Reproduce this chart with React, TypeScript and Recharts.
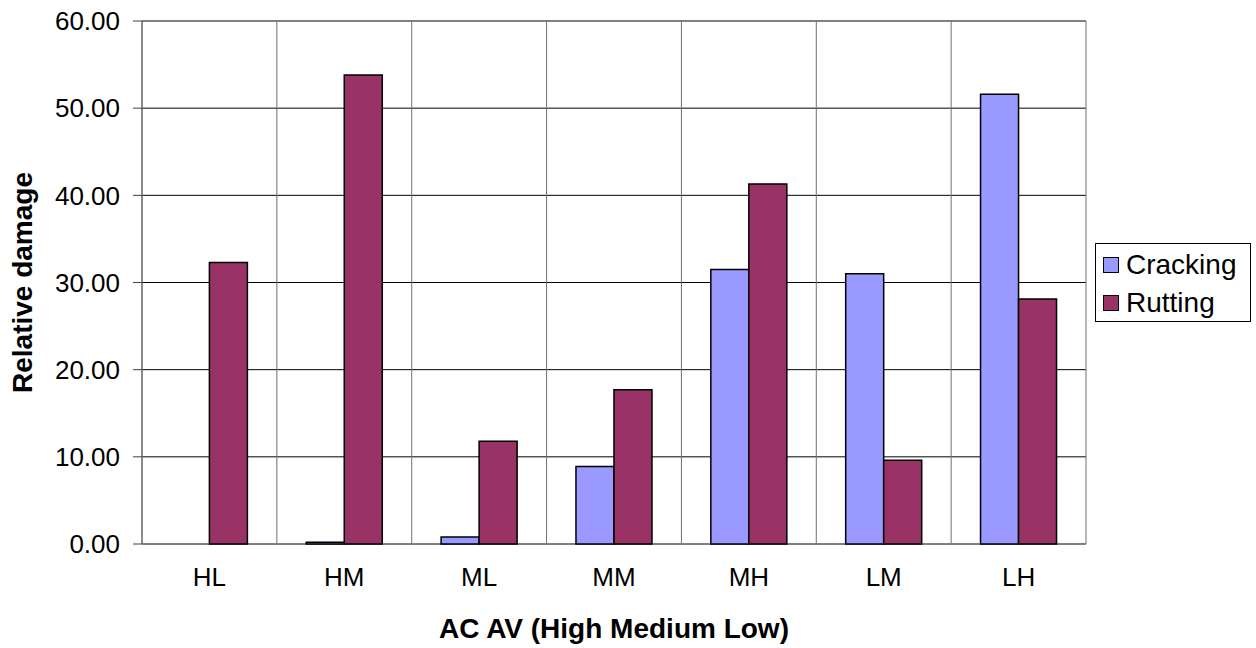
import React from 'react';
import { BarChart, Bar, XAxis, YAxis, CartesianGrid, Legend, Label } from 'recharts';

const categories = ['HL', 'HM', 'ML', 'MM', 'MH', 'LM', 'LH'];
const cracking = [0, 0.2, 0.8, 8.9, 31.5, 31.0, 51.6];
const rutting = [32.3, 53.8, 11.8, 17.7, 41.3, 9.6, 28.1];
const yTicks = [0, 10, 20, 30, 40, 50, 60];
const boundaryTicks = [0, 1, 2, 3, 4, 5, 6, 7];

const data = categories.map((c, i) => ({ cat: c, idx: i + 0.5, Cracking: cracking[i], Rutting: rutting[i] }));

const FONT = '"Liberation Sans", Arial, sans-serif';

const LegendBox = (props: any) => {
  const items = props.payload || [];
  return (
    <div style={{ border: '1px solid #000', background: '#fff', boxSizing: 'border-box', width: 156, height: 79, padding: '2px 0 0 7px', fontFamily: FONT, fontSize: 28 }}>
      {items.map((p: any) => (
        <div key={p.value} style={{ display: 'flex', alignItems: 'center', height: 38 }}>
          <span style={{ display: 'inline-block', width: 16, height: 16, background: p.color, border: '1px solid #000', marginRight: 7, boxSizing: 'border-box' }} />
          <span style={{ color: '#000', lineHeight: '32px' }}>{p.value}</span>
        </div>
      ))}
    </div>
  );
};

export default function App() {
  return (
    <div style={{ position: 'absolute', left: 0, top: 0, background: '#fff' }}>
      <BarChart
        width={1256}
        height={648}
        data={data}
        margin={{ top: 21, right: 170, bottom: 4, left: 0 }}
        barCategoryGap="21.8%"
        barGap={0}
      >
        <CartesianGrid horizontal={true} vertical={false} stroke="#000" />
        <CartesianGrid horizontal={false} vertical={true} xAxisId="b" stroke="#707070" />
        <XAxis
          xAxisId="b"
          dataKey="idx"
          type="number"
          domain={[0, 7]}
          ticks={boundaryTicks}
          height={0}
          tickSize={9}
          tickFormatter={() => ''}
          stroke="#808080"
          strokeWidth={1.5}
          tickLine={{ stroke: '#404040', strokeWidth: 1 }}
        />
        <XAxis
          dataKey="cat"
          height={100}
          axisLine={false}
          tickLine={false}
          tickMargin={18}
          tick={{ fill: '#000', fontSize: 26, fontFamily: FONT }}
        >
          <Label value="AC AV (High Medium Low)" position="insideBottom" offset={6} style={{ fontFamily: FONT, fontSize: 28, fontWeight: 'bold', fill: '#000' }} />
        </XAxis>
        <YAxis
          width={142}
          domain={[0, 60]}
          ticks={yTicks}
          tickFormatter={(v: number) => v.toFixed(2)}
          tickSize={9}
          tickMargin={13}
          stroke="#606060"
          tickLine={{ stroke: '#404040' }}
          tick={{ fill: '#000', fontSize: 26, fontFamily: FONT }}
        >
          <Label value="Relative damage" angle={-90} position="insideLeft" offset={22} style={{ textAnchor: 'middle', fontFamily: FONT, fontSize: 28, fontWeight: 'bold', fill: '#000' }} />
        </YAxis>
        <Legend
          layout="horizontal"
          align="center"
          verticalAlign="middle"
          content={<LegendBox />}
          wrapperStyle={{ left: 1095, top: 243, width: 156, height: 79 }}
        />
        <Bar dataKey="Cracking" fill="#9999FF" stroke="#000" strokeWidth={1.5} isAnimationActive={false} />
        <Bar dataKey="Rutting" fill="#993366" stroke="#000" strokeWidth={1.5} isAnimationActive={false} />
      </BarChart>
    </div>
  );
}
